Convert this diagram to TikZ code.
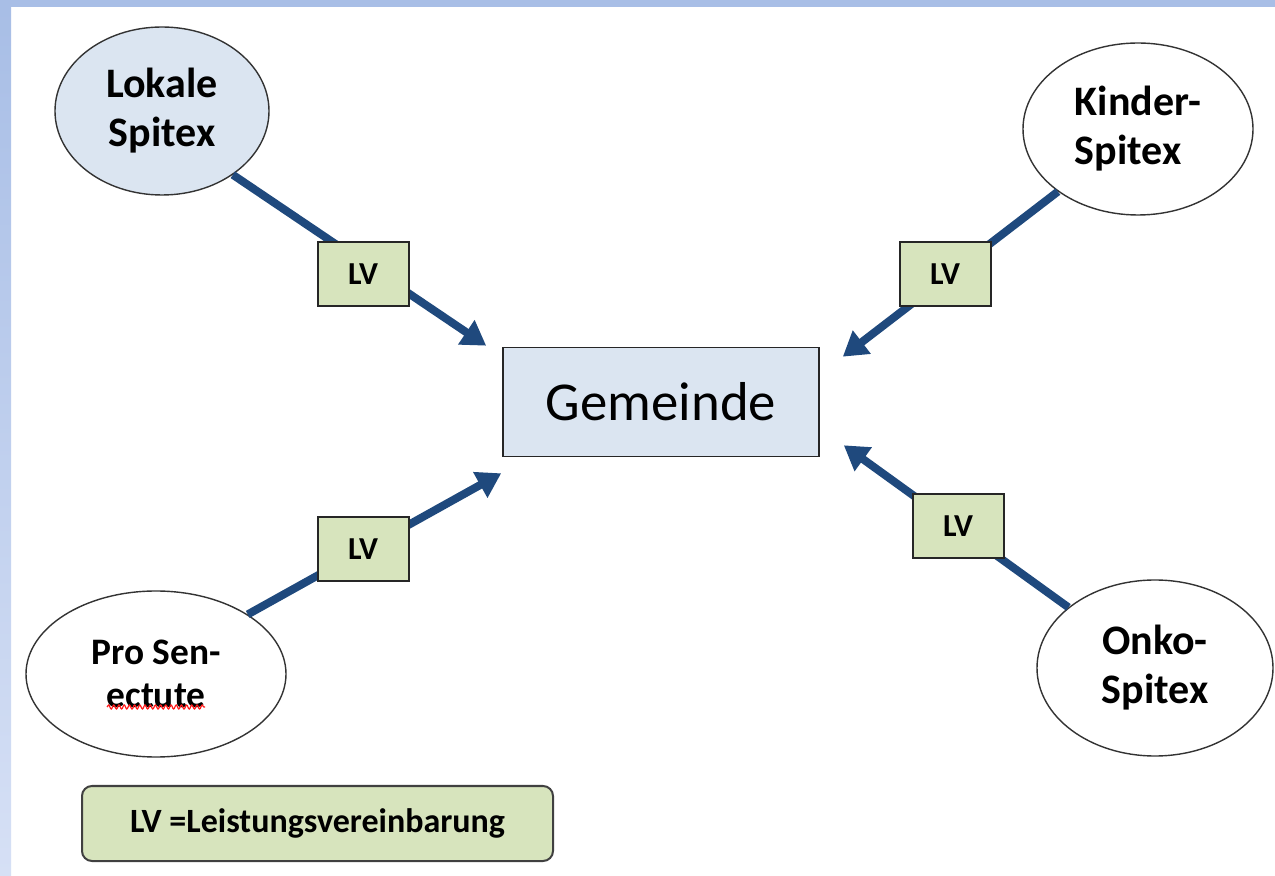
\documentclass[tikz,border=0pt]{standalone}
\usepackage{fontspec}
\setmainfont{Carlito}
\usetikzlibrary{shapes.geometric,arrows.meta,decorations.pathmorphing}
\definecolor{blassblau}{RGB}{219,229,241}
\definecolor{lvgruen}{RGB}{215,228,189}
\definecolor{pfeilblau}{RGB}{31,73,125}
\definecolor{randblau}{RGB}{168,190,230}
\definecolor{randhell}{RGB}{214,224,245}

\begin{document}
\begin{tikzpicture}[x=0.5pt,y=-0.5pt,
	dienst/.style={draw=black!80,line width=0.7pt,ellipse,inner sep=0pt,fill=white,align=center,font=\fontsize{21}{24.5}\selectfont\bfseries},
	lvbox/.style={draw=black!85,line width=1pt,fill=lvgruen,minimum width=45.5pt,minimum height=32pt,inner sep=0pt,font=\fontsize{16}{19}\selectfont\bfseries},
	lvpfeil/.style={draw=pfeilblau,line width=4pt,-{Triangle[length=12pt,width=14pt]}}]
	% Hintergrund und Rand
	\useasboundingbox (0,0) rectangle (1275,876);
	\fill[white] (0,0) rectangle (1275,876);
	\fill[randblau] (0,0) rectangle (1275,7);
	\shade[top color=randblau,bottom color=randhell] (0,7) rectangle (11,876);

	% Gemeinde in der Mitte
	\node[draw=black!85,line width=0.8pt,fill=blassblau,minimum width=158pt,minimum height=54.5pt,font=\fontsize{27.4}{32}\selectfont] (gem) at (661,402) {Gemeinde};

	% Dienste
	\node[dienst,fill=blassblau,minimum width=107pt,minimum height=84pt] (lokale) at (162,111) {Lokale\\Spitex};
	\node[dienst,align=left,minimum width=115pt,minimum height=86pt] (kinder) at (1138,129) {Kinder-\\Spitex};
	\node[dienst,font=\fontsize{18.7}{21.5}\selectfont\bfseries,minimum width=130pt,minimum height=83pt] (prosen) at (156,674) {Pro Sen-\\ectute};
	\node[dienst,minimum width=118pt,minimum height=88pt] (onko) at (1155,668) {Onko-\\Spitex};
	\draw[red!90,line width=0.6pt,decorate,decoration={snake,amplitude=1pt,segment length=2.6pt}]
		([shift={(-49,33)}]prosen.center) -- ([shift={(49,33)}]prosen.center);

	% Pfeile zur Gemeinde
	\coordinate (spitzeA) at ([shift={(-16,-1)}]gem.north west);
	\coordinate (spitzeB) at ([shift={(23,10)}]gem.north east);
	\coordinate (spitzeC) at ([shift={(-1,16)}]gem.south west);
	\coordinate (spitzeD) at ([shift={(24,-12)}]gem.south east);
	\draw[lvpfeil] (lokale.-42) -- (spitzeA);
	\draw[lvpfeil] (kinder.-142) -- (spitzeB);
	\draw[lvpfeil] (prosen.33) -- (spitzeC);
	\draw[lvpfeil] (onko.145) -- (spitzeD);

	% LV-Kaestchen
	\node[lvbox] (lv1) at (363,274) {LV};
	\node[lvbox] (lv2) at (945,274) {LV};
	\node[lvbox] (lv3) at (363,549) {LV};
	\node[lvbox] (lv4) at (958,526) {LV};

	% Legende
	\node[draw=black!75,line width=1pt,fill=lvgruen,rounded corners=5pt,minimum width=235.5pt,minimum height=37.5pt,font=\fontsize{17}{20}\selectfont\bfseries] (legende) at (317.5,823.5) {LV =Leistungsvereinbarung};
\end{tikzpicture}
\end{document}
